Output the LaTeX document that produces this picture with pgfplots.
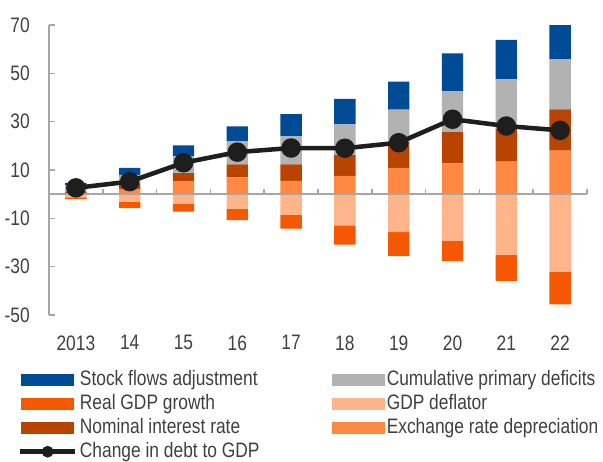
\documentclass[border=0pt]{standalone}
\usepackage{pgfplots}
\pgfplotsset{compat=1.18}
\usepackage{pgfplotstable}
\usepackage{fontspec}
\setmainfont{Liberation Sans}[FakeStretch=0.83]

\definecolor{cStock}{RGB}{0,75,150}
\definecolor{cGray}{RGB}{178,178,178}
\definecolor{cReal}{RGB}{245,88,0}
\definecolor{cDefl}{RGB}{255,180,138}
\definecolor{cNom}{RGB}{185,68,0}
\definecolor{cExch}{RGB}{255,136,66}
\definecolor{cLine}{RGB}{30,30,30}
\definecolor{cAxis}{RGB}{166,166,166}

% positive contributions (x = 0 is 2013)
\pgfplotstableread{
x exch nom gray stock
0 0.5 0.5 2.6 1.1
1 2.2 2.3 3.5 2.9
2 5.4 3.3 6.9 4.6
3 7.0 5.3 9.7 6.1
4 5.5 6.8 11.6 9.2
5 7.6 8.6 12.7 10.5
6 10.9 10.7 13.4 11.6
7 12.7 13.0 16.8 15.8
8 13.5 13.6 20.4 16.3
9 18.0 17.1 20.8 14.3
}\pos

% negative contributions
\pgfplotstableread{
x defl real
0 -1.3 -0.8
1 -3.1 -2.7
2 -4.0 -3.2
3 -6.1 -4.6
4 -8.5 -5.8
5 -12.9 -8.0
6 -15.7 -9.9
7 -19.3 -8.3
8 -25.1 -10.8
9 -32.0 -13.6
}\neg

\pgfplotstableread{
x debt
0 2.6
1 5.2
2 13.0
3 17.4
4 19.1
5 19.0
6 21.3
7 31.0
8 28.2
9 26.4
}\debt

\pgfplotsset{
  base/.style={
    scale only axis, width=403.5pt, height=217.5pt,
    at={(0,0)}, anchor=south west,
    xmin=-0.5, xmax=9.5, ymin=-50, ymax=70,
  },
}

\begin{document}
\begin{tikzpicture}
\fontsize{15.7}{17}\selectfont

% positive stack + visible y axis and labels
\begin{axis}[base,
  ybar stacked, bar width=16pt,
  axis y line*=left, axis x line*=bottom,
  x axis line style={draw=none},
  y axis line style={cAxis, line width=1.2pt},
  ytick={-50,-30,-10,10,30,50,70},
  yticklabels={-50,-30,-10,10,30,50,70},
  ytick style={cAxis, line width=1.2pt},
  tick align=inside, major tick length=4.5pt,
  xtick={0,...,9},
  xticklabels={2013,14,15,16,17,18,19,20,21,22},
  xtick style={draw=none},
  tick label style={font=\fontsize{15.7}{17}\selectfont, text=black!75},
  yticklabel style={xshift=-9pt},
  xticklabel style={yshift=-10pt},
]
\addplot[fill=cExch, draw=none] table[x=x, y=exch] {\pos};
\addplot[fill=cNom, draw=none] table[x=x, y=nom] {\pos};
\addplot[fill=cGray, draw=none] table[x=x, y=gray] {\pos};
\addplot[fill=cStock, draw=none] table[x=x, y=stock] {\pos};
\end{axis}

% negative stack
\begin{axis}[base, hide axis, ybar stacked, bar width=16pt]
\addplot[fill=cDefl, draw=none] table[x=x, y=defl] {\neg};
\addplot[fill=cReal, draw=none] table[x=x, y=real] {\neg};
\end{axis}

% zero line, debt line and legend
\begin{axis}[base, hide axis, clip=false,
  legend columns=2,
  legend cell align=left,
  legend style={at={(axis description cs:-0.058,-0.181)}, anchor=north west,
    draw=none, fill=none, inner sep=0pt, row sep=0.3pt,
    font=\fontsize{15.7}{17}\selectfont, text=black!75,
    /tikz/every even column/.append style={column sep=52pt}},
]
\draw[cAxis, line width=1.2pt] (axis cs:-0.5,0) -- (axis cs:9.5,0);
\pgfplotsinvokeforeach{0,...,9}{
  \draw[cAxis, line width=1.2pt] (axis cs:#1.5,0) -- ++(0pt,4pt);
}
\addplot[cLine, line width=3.4pt, mark=*, mark size=5.6pt, forget plot]
  table[x=x, y=debt] {\debt};

\addlegendimage{legend image code/.code={\fill[cStock] (0pt,-4pt) rectangle (39pt,4pt);}}
\addlegendentry{Stock flows adjustment}
\addlegendimage{legend image code/.code={\fill[cGray] (0pt,-4pt) rectangle (39pt,4pt);}}
\addlegendentry{Cumulative primary deficits}
\addlegendimage{legend image code/.code={\fill[cReal] (0pt,-4pt) rectangle (39pt,4pt);}}
\addlegendentry{Real GDP growth}
\addlegendimage{legend image code/.code={\fill[cDefl] (0pt,-4pt) rectangle (39pt,4pt);}}
\addlegendentry{GDP deflator}
\addlegendimage{legend image code/.code={\fill[cNom] (0pt,-4pt) rectangle (39pt,4pt);}}
\addlegendentry{Nominal interest rate}
\addlegendimage{legend image code/.code={\fill[cExch] (0pt,-4pt) rectangle (39pt,4pt);}}
\addlegendentry{Exchange rate depreciation}
\addlegendimage{legend image code/.code={\draw[cLine, line width=3.4pt] (-1pt,0pt) -- (40pt,0pt); \fill[cLine] (19.5pt,0pt) circle (4.2pt);}}
\addlegendentry{Change in debt to GDP}
\end{axis}

\pgfresetboundingbox
\useasboundingbox (-36.75pt,-109.5pt) rectangle (415.5pt,236.25pt);
\end{tikzpicture}
\end{document}
